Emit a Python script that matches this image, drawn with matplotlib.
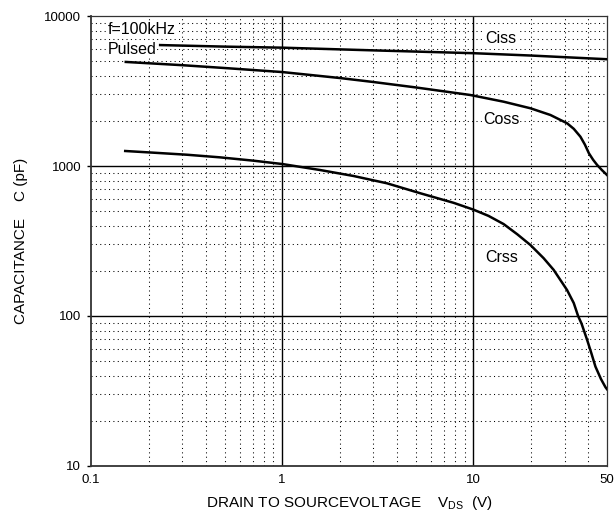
import numpy as np
import matplotlib
matplotlib.use("Agg")
import matplotlib.pyplot as plt
from matplotlib.ticker import FixedLocator, NullFormatter

plt.rcParams['font.family'] = ['Liberation Sans', 'DejaVu Sans']
plt.rcParams['mathtext.fontset'] = 'custom'
plt.rcParams['mathtext.rm'] = 'Liberation Sans'
plt.rcParams['mathtext.it'] = 'Liberation Sans'

# capacitance vs drain-source voltage (pF vs V)
ciss_v = [0.23, 0.5, 1, 3, 10, 20, 50]
ciss_c = [6400, 6250, 6150, 5900, 5650, 5450, 5150]

coss_v = [0.152, 0.3, 0.5, 1, 2, 3, 5, 9.64, 14.4, 19.9, 25.3, 30.9, 33.5, 36.3, 38.3, 40.2, 42.3, 44.4, 47, 50]
coss_c = [4940, 4700, 4500, 4230, 3860, 3630, 3340, 2974, 2683, 2425, 2188, 1928, 1770, 1568, 1390, 1216, 1100, 1016, 940, 871]

crss_v = [0.151, 0.212, 0.317, 0.473, 0.708, 1.0, 1.58, 2.36, 3.53, 5.28, 7.89, 10, 12, 14.4, 17, 19.9, 23.3, 26.3, 30.9, 33.5, 35.3, 36.8, 39.4, 41.5, 43.5, 46.5, 49.1, 50]
crss_c = [1259, 1227, 1189, 1142, 1085, 1031, 940, 858, 767, 658, 568, 512, 465, 410, 350, 297, 243, 203, 149, 122, 100, 89, 69, 56, 46, 38, 33.5, 32.5]

x_ticks = [0.1, 1, 10, 50]
x_tick_labels = ["0.1", "1", "10", "50"]
y_ticks = [10, 100, 1000, 10000]
y_tick_labels = ["10", "100", "1000", "10000"]

fig = plt.figure(figsize=(6.14, 5.15), dpi=100)
ax = fig.add_axes([91 / 614, 1 - 466 / 515, 516 / 614, 450 / 515])
ax.set_xscale('log')
ax.set_yscale('log')
ax.set_xlim(0.1, 50)
ax.set_ylim(10, 10000)

# minor grid (dotted) and decade grid (solid)
x_minor = [m * d for d in (0.1, 1, 10) for m in range(2, 10) if m * d < 50]
y_minor = [m * d for d in (10, 100, 1000) for m in range(2, 10)]
for xv in x_minor:
    ax.axvline(xv, color='black', lw=0.75, ls=(0, (1, 3.2)), zorder=1)
for yv in y_minor:
    ax.axhline(yv, color='black', lw=0.75, ls=(0, (1, 3.2)), zorder=1)
for xv in (1, 10):
    ax.axvline(xv, color='black', lw=1.0, zorder=1)
for yv in (100, 1000):
    ax.axhline(yv, color='black', lw=1.0, zorder=1)

ax.plot(ciss_v, ciss_c, color='black', lw=1.8, zorder=3)
ax.plot(coss_v, coss_c, color='black', lw=1.8, zorder=3)
ax.plot(crss_v, crss_c, color='black', lw=1.8, zorder=3)

box = dict(facecolor='white', edgecolor='none', pad=0.5)
ax.text(0.1227, 8130, "f=100kHz", fontsize=11.5, va='center', ha='left', bbox=box, zorder=2)
ax.text(0.1227, 6000, "Pulsed", fontsize=11.5, va='center', ha='left', bbox=box, zorder=2)
ax.text(14, 7080, "Ciss", fontsize=11.5, va='center', ha='center', bbox=box, zorder=2)
ax.text(14, 2057, "Coss", fontsize=11.5, va='center', ha='center', bbox=box, zorder=2)
ax.text(14, 247, "Crss", fontsize=11.5, va='center', ha='center', bbox=box, zorder=2)

ax.xaxis.set_major_locator(FixedLocator(x_ticks))
ax.xaxis.set_minor_locator(FixedLocator([]))
ax.xaxis.set_minor_formatter(NullFormatter())
ax.set_xticklabels(x_tick_labels)
ax.yaxis.set_major_locator(FixedLocator(y_ticks))
ax.yaxis.set_minor_locator(FixedLocator([]))
ax.yaxis.set_minor_formatter(NullFormatter())
ax.set_yticklabels(y_tick_labels)
ax.tick_params(axis='x', length=0, pad=6, labelsize=9.5)
ax.tick_params(axis='y', length=3, width=1, pad=4, labelsize=9.5)

for side in ('left', 'bottom'):
    ax.spines[side].set_linewidth(1.3)
    ax.spines[side].set_color('#333333')
for side in ('top', 'right'):
    ax.spines[side].set_linewidth(0.9)
    ax.spines[side].set_color('#333333')

ax.set_xlabel(r"DRAIN TO SOURCEVOLTAGE    V$_{\mathrm{DS}}$  (V)", fontsize=11, labelpad=5.5)
ax.set_ylabel("CAPACITANCE    C (pF)", fontsize=11, labelpad=12)

fig.savefig("out.png", dpi=100)
